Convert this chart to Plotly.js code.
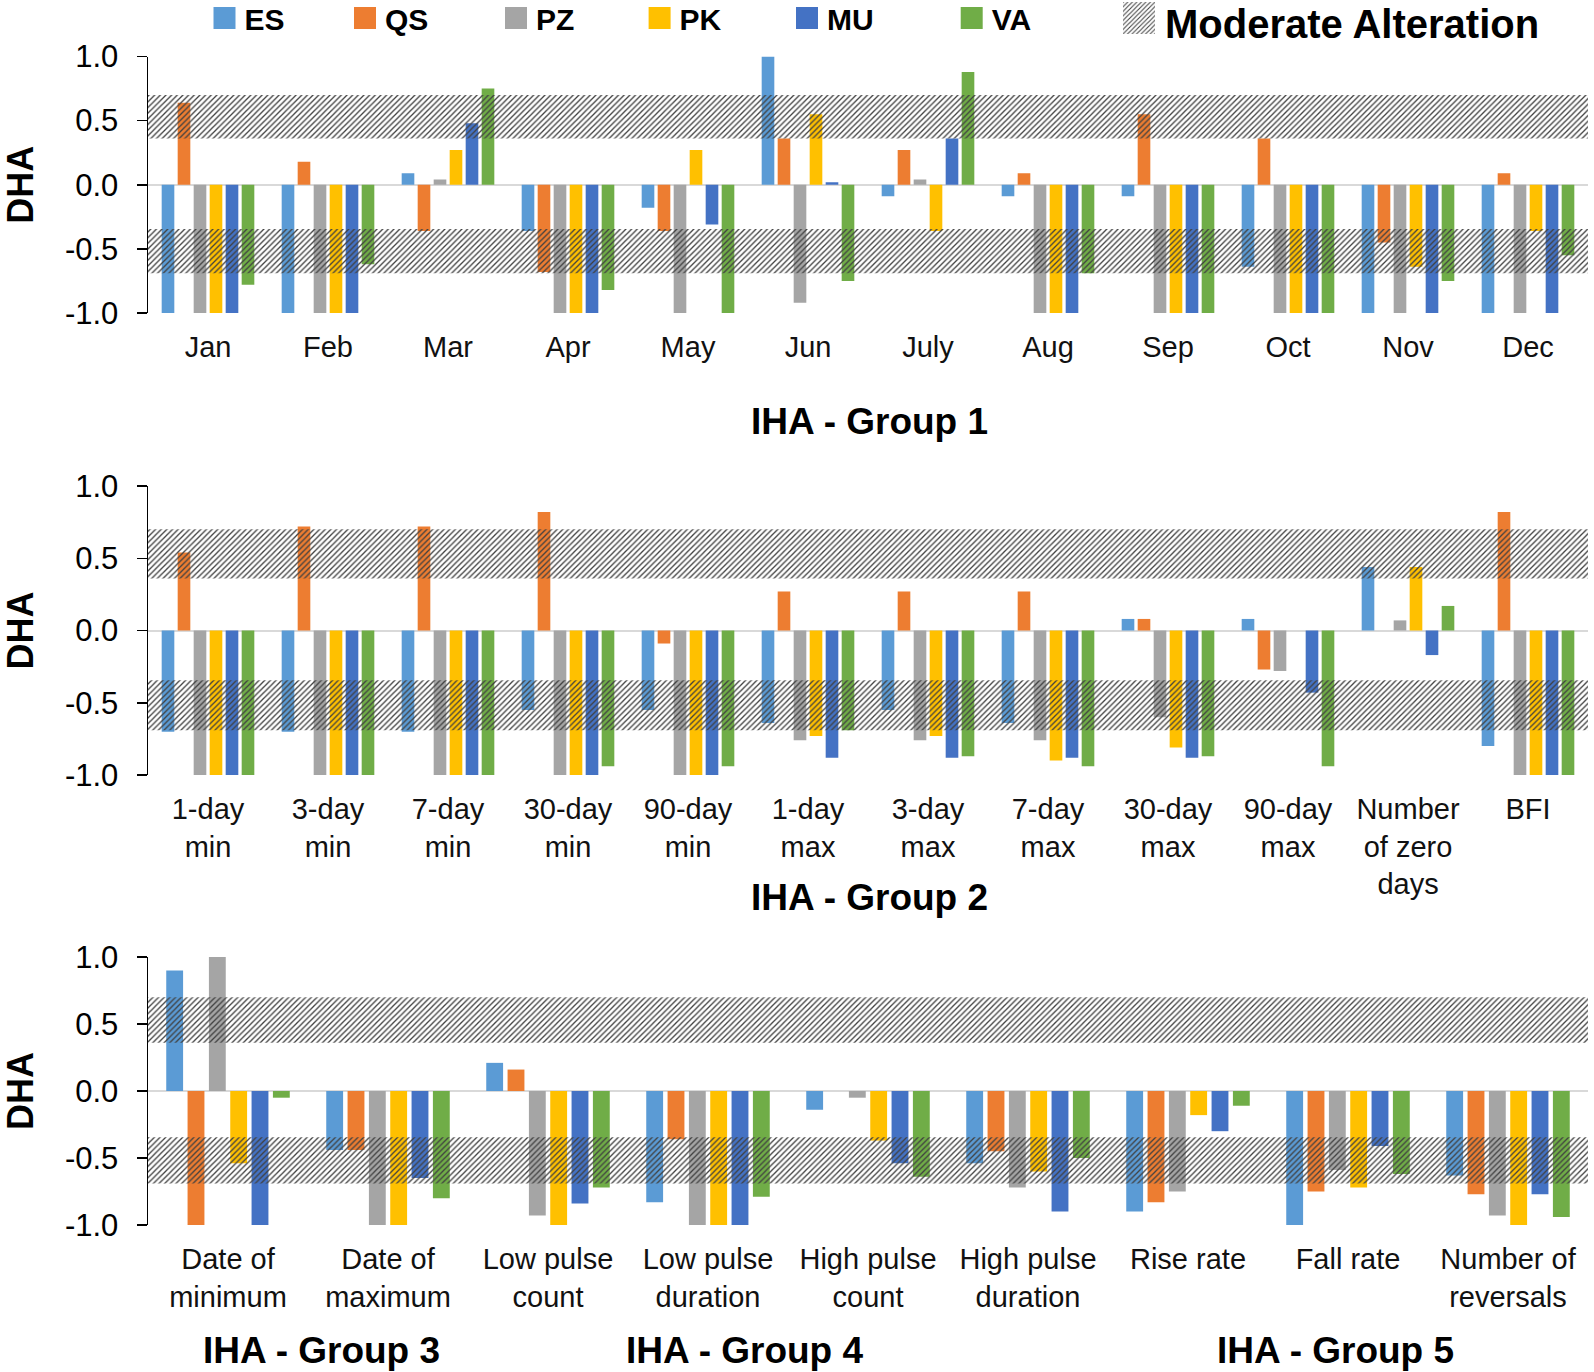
<!DOCTYPE html>
<html>
<head>
<meta charset="utf-8">
<script src="https://cdn.plot.ly/plotly-3.0.1.min.js"></script>
<style>
  html, body { margin: 0; padding: 0; background: #fff; }
  #chart { width: 1594px; height: 1372px; }
</style>
</head>
<body>
<div id="chart"></div>
<script>
// ---------------- DATA ----------------
const seriesNames = ['ES', 'QS', 'PZ', 'PK', 'MU', 'VA'];
const seriesColors = ['#5B9BD5', '#ED7D31', '#A5A5A5', '#FFC000', '#4472C4', '#70AD47'];

// IHA Group 1 - monthly
const cats1 = ['Jan', 'Feb', 'Mar', 'Apr', 'May', 'Jun', 'July', 'Aug', 'Sep', 'Oct', 'Nov', 'Dec'];
const ES1 = [-1, -1, 0.09, -0.36, -0.18, 1.0, -0.09, -0.09, -0.09, -0.64, -1, -1];
const QS1 = [0.64, 0.18, -0.36, -0.68, -0.36, 0.36, 0.27, 0.09, 0.55, 0.36, -0.45, 0.09];
const PZ1 = [-1, -1, 0.04, -1, -1, -0.92, 0.04, -1, -1, -1, -1, -1];
const PK1 = [-1, -1, 0.27, -1, 0.27, 0.55, -0.36, -1, -1, -1, -0.64, -0.36];
const MU1 = [-1, -1, 0.48, -1, -0.31, 0.02, 0.36, -1, -1, -1, -1, -1];
const VA1 = [-0.78, -0.62, 0.75, -0.82, -1, -0.75, 0.88, -0.69, -1, -1, -0.75, -0.55];

// IHA Group 2 - extremes
const cats2 = ['1-day<br>min', '3-day<br>min', '7-day<br>min', '30-day<br>min', '90-day<br>min',
               '1-day<br>max', '3-day<br>max', '7-day<br>max', '30-day<br>max', '90-day<br>max',
               'Number<br>of zero<br>days', 'BFI'];
const ES2 = [-0.70, -0.70, -0.70, -0.55, -0.55, -0.64, -0.55, -0.64, 0.08, 0.08, 0.44, -0.80];
const QS2 = [0.54, 0.72, 0.72, 0.82, -0.09, 0.27, 0.27, 0.27, 0.08, -0.27, 0, 0.82];
const PZ2 = [-1, -1, -1, -1, -1, -0.76, -0.76, -0.76, -0.60, -0.28, 0.07, -1];
const PK2 = [-1, -1, -1, -1, -1, -0.73, -0.73, -0.90, -0.81, 0, 0.44, -1];
const MU2 = [-1, -1, -1, -1, -1, -0.88, -0.88, -0.88, -0.88, -0.43, -0.17, -1];
const VA2 = [-1, -1, -1, -0.94, -0.94, -0.69, -0.87, -0.94, -0.87, -0.94, 0.17, -1];

// IHA Groups 3, 4, 5
const cats3 = ['Date of<br>minimum', 'Date of<br>maximum', 'Low pulse<br>count', 'Low pulse<br>duration',
               'High pulse<br>count', 'High pulse<br>duration', 'Rise rate', 'Fall rate', 'Number of<br>reversals'];
const ES3 = [0.90, -0.44, 0.21, -0.83, -0.14, -0.54, -0.90, -1, -0.63];
const QS3 = [-1, -0.44, 0.16, -0.36, 0, -0.45, -0.83, -0.75, -0.77];
const PZ3 = [1.0, -1, -0.93, -1, -0.05, -0.72, -0.75, -0.59, -0.93];
const PK3 = [-0.54, -1, -1, -1, -0.37, -0.60, -0.18, -0.72, -1];
const MU3 = [-1, -0.65, -0.84, -1, -0.54, -0.90, -0.30, -0.41, -0.77];
const VA3 = [-0.05, -0.80, -0.72, -0.79, -0.64, -0.50, -0.11, -0.62, -0.94];

// Moderate alteration bands (DHA)
const modUpper = [0.36, 0.70];
const modLower = [-0.69, -0.345];

const yTickVals = [-1, -0.5, 0, 0.5, 1];
const yTickText = ['-1.0', '-0.5', '0.0', '0.5', '1.0'];
const groupTitles = ['IHA - Group 1', 'IHA - Group 2', 'IHA - Group 3', 'IHA - Group 4', 'IHA - Group 5'];
const legendBandName = 'Moderate Alteration';

// ---------------- BUILD ----------------
const FONT = 'Liberation Sans, Arial, Helvetica, sans-serif';
const panels = [
  { cats: cats1, vals: [ES1, QS1, PZ1, PK1, MU1, VA1], xa: 'x', ya: 'y', ov: 'x4' },
  { cats: cats2, vals: [ES2, QS2, PZ2, PK2, MU2, VA2], xa: 'x2', ya: 'y2', ov: 'x5' },
  { cats: cats3, vals: [ES3, QS3, PZ3, PK3, MU3, VA3], xa: 'x3', ya: 'y3', ov: 'x6' }
];

const traces = [];
panels.forEach((p, pi) => {
  seriesNames.forEach((nm, si) => {
    traces.push({
      type: 'bar', name: nm, x: p.cats, y: p.vals[si],
      xaxis: p.xa, yaxis: p.ya,
      marker: { color: seriesColors[si], line: { width: 0 } },
      showlegend: pi === 0, legendgroup: nm, hoverinfo: 'x+y+name'
    });
  });
  traces.push({
    type: 'bar', name: legendBandName,
    x: [0.5, 0.5], width: [1, 1],
    base: [modUpper[0], modLower[0]],
    y: [modUpper[1] - modUpper[0], modLower[1] - modLower[0]],
    xaxis: p.ov, yaxis: p.ya,
    marker: {
      color: 'rgba(0,0,0,0)', line: { width: 0 },
      pattern: { shape: '/', fgcolor: '#404040', bgcolor: 'rgba(255,255,255,0)', size: 4, solidity: 0.33, fillmode: 'replace' }
    },
    showlegend: pi === 0, legendgroup: 'band', hoverinfo: 'skip'
  });
});

const W = 1594, H = 1372;
const xDom = [148 / W, 1588 / W];
const yDoms = [
  [1 - 313 / H, 1 - 56.5 / H],
  [1 - 775 / H, 1 - 486 / H],
  [1 - 1225 / H, 1 - 957 / H]
];

function yAxis(dom, anchor) {
  return {
    domain: dom, anchor: anchor, range: [-1, 1], fixedrange: true,
    showline: true, linecolor: '#000', linewidth: 1.5,
    ticks: 'outside', ticklen: 10, tickwidth: 1.5, tickcolor: '#000',
    tickvals: yTickVals, ticktext: yTickText, ticklabelstandoff: 12,
    tickfont: { family: FONT, size: 31, color: '#000' },
    showgrid: false, zeroline: true, zerolinecolor: '#d9d9d9', zerolinewidth: 2,
    title: { text: 'DHA', font: { family: FONT, size: 36, weight: 'bold', color: '#000' }, standoff: 22 }
  };
}
function xAxis(anchor) {
  return {
    domain: xDom, anchor: anchor, type: 'category', fixedrange: true,
    showline: false, showgrid: false, zeroline: false,
    ticks: 'outside', ticklen: 4, tickcolor: 'rgba(0,0,0,0)',
    ticklabelstandoff: 4,
    tickfont: { family: FONT, size: 29, color: '#111' }
  };
}
function ovAxis(base) {
  return { overlaying: base, range: [0, 1], visible: false, fixedrange: true };
}

function gtitle(text, xpx, ypx) {
  return {
    text: text, xref: 'paper', yref: 'paper', x: xpx / W, y: 1 - ypx / H,
    xanchor: 'center', yanchor: 'middle', showarrow: false,
    font: { family: FONT, size: 37, weight: 'bold', color: '#000' }
  };
}

const layout = {
  width: W, height: H,
  margin: { l: 0, r: 0, t: 0, b: 0 },
  paper_bgcolor: '#fff', plot_bgcolor: 'rgba(0,0,0,0)',
  barmode: 'group', bargap: 0.2, bargroupgap: 0.21,
  font: { family: FONT, color: '#000' },
  xaxis: xAxis('y'), yaxis: yAxis(yDoms[0], 'x'),
  xaxis2: xAxis('y2'), yaxis2: yAxis(yDoms[1], 'x2'),
  xaxis3: xAxis('y3'), yaxis3: yAxis(yDoms[2], 'x3'),
  xaxis4: ovAxis('x'), xaxis5: ovAxis('x2'), xaxis6: ovAxis('x3'),
  showlegend: true,
  legend: {
    orientation: 'h', x: 200 / W, xanchor: 'left', y: 1, yanchor: 'top',
    font: { family: FONT, size: 30, weight: 'bold', color: '#000' },
    traceorder: 'normal', borderwidth: 0,
    bgcolor: 'rgba(0,0,0,0)', itemclick: false, itemdoubleclick: false
  },
  annotations: [
    gtitle(groupTitles[0], 869, 422),
    gtitle(groupTitles[1], 869, 897),
    gtitle(groupTitles[2], 321, 1350),
    gtitle(groupTitles[3], 744, 1350),
    gtitle(groupTitles[4], 1335, 1350)
  ]
};

// legend item placement (symbol centres, px) to match the original figure
const legendCX = [224.5, 365, 516, 659.6, 807, 971.7, 1139];
const legendCY = 18;

Plotly.newPlot('chart', traces, layout, { staticPlot: true, displayModeBar: false }).then(gd => {
  // tighten multi-line category label spacing
  gd.querySelectorAll('.xtick text tspan.line').forEach(t => {
    const dy = t.getAttribute('dy');
    if (dy && /em$/.test(dy)) {
      const v = parseFloat(dy);
      if (v) t.setAttribute('dy', (v * 0.915).toFixed(3) + 'em');
    }
  });
  // legend: remove clipping, enlarge symbols, place items
  const legend = gd.querySelector('.legend');
  legend.querySelectorAll('[clip-path]').forEach(e => e.removeAttribute('clip-path'));
  const items = legend.querySelectorAll('.traces');
  items.forEach((g, i) => {
    const p = g.querySelector('.legendpoints path');
    const txt = g.querySelector('text.legendtext');
    if (!p) return;
    const isBand = txt && txt.textContent.indexOf('Moderate') >= 0;
    const h = isBand ? 16 : 11;
    p.setAttribute('d', 'M' + h + ',' + h + 'H-' + h + 'V-' + h + 'H' + h + 'Z');
    if (isBand && txt) {
      txt.style.fontSize = '40px';
      txt.setAttribute('x', '46');
      const y0 = parseFloat(txt.getAttribute('y') || '0');
      txt.setAttribute('y', String(y0 + 8));
    }
    const r = p.getBoundingClientRect();
    const cx = r.left + r.width / 2, cy = r.top + r.height / 2;
    const tr = g.getAttribute('transform') || 'translate(0,0)';
    const m = tr.match(/translate\(\s*([-\d.e]+)[ ,]+([-\d.e]+)\s*\)/);
    const tx = m ? parseFloat(m[1]) : 0, ty = m ? parseFloat(m[2]) : 0;
    const k = Math.min(i, legendCX.length - 1);
    g.setAttribute('transform', 'translate(' + (tx + legendCX[k] - cx) + ',' + (ty + legendCY - cy) + ')');
  });
});
</script>
</body>
</html>
